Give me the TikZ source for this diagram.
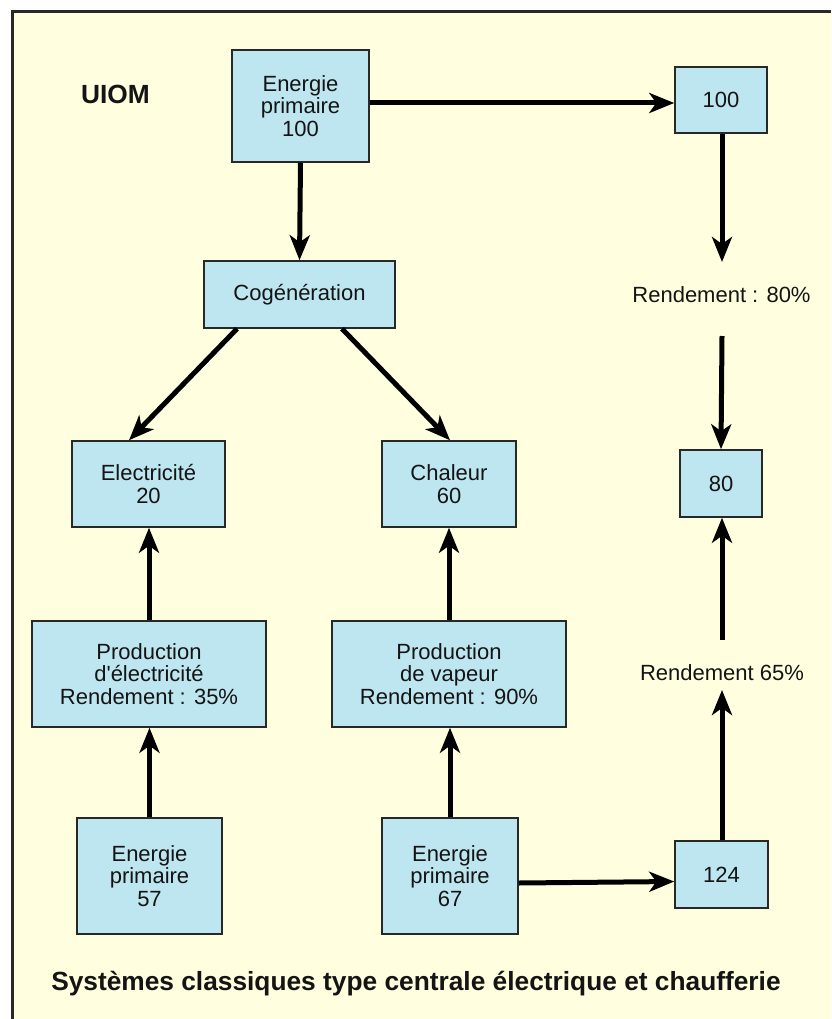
\documentclass[tikz,border=0pt]{standalone}
\usepackage{fontspec}
\setmainfont{Liberation Sans}
\usetikzlibrary{arrows.meta}
\definecolor{paper}{RGB}{255,255,224}
\definecolor{boxblue}{RGB}{190,230,240}
\definecolor{edge}{RGB}{40,40,40}
\definecolor{ink}{RGB}{20,20,20}
\tikzset{
  flowbox/.style={draw=edge, line width=1.5pt, fill=boxblue, inner sep=0pt, text=ink,
    align=center, font=\fontsize{22}{22.5}\selectfont},
  flowlabel/.style={inner sep=0pt, align=center, text=ink, font=\fontsize{22}{22.5}\selectfont},
  heading/.style={inner sep=0pt, text=ink, font=\bfseries\fontsize{26.3}{30}\selectfont},
  arr/.style={line width=5pt, -{Stealth[length=25pt, width=20pt, inset=7pt]}}
}
\begin{document}
\begin{tikzpicture}[x=1pt, y=-1pt]
\useasboundingbox (0,0) rectangle (831,1019);
% panel
\fill[paper] (11,10) rectangle (831,1019);
\draw[line width=3pt, edge] (12.5,1019) -- (12.5,11.5) -- (831,11.5);

% boxes
\node[flowbox, minimum width=137pt, minimum height=112pt] (e100) at (300.5,106) {Energie\\primaire\\100};
\node[flowbox, minimum width=92pt, minimum height=66pt] (b100) at (721,100) {100};
\node[flowbox, minimum width=191pt, minimum height=67pt] (cog) at (299.5,294.5) {Cogénération};
\node[flowbox, minimum width=153pt, minimum height=86pt] (elec) at (148.5,484) {Electricité\\20};
\node[flowbox, minimum width=134pt, minimum height=86pt] (chal) at (449,484) {Chaleur\\60};
\node[flowbox, minimum width=82pt, minimum height=67pt] (b80) at (721,483.5) {80};
\node[flowbox, minimum width=234pt, minimum height=106pt] (prodE) at (149,674) {Production\\d\textquotesingle électricité\\Rendement : 35\%};
\node[flowbox, minimum width=234pt, minimum height=106pt] (prodV) at (449,674) {Production\\de vapeur\\Rendement : 90\%};
\node[flowbox, minimum width=145pt, minimum height=116pt] (e57) at (149.5,876) {Energie\\primaire\\57};
\node[flowbox, minimum width=136pt, minimum height=116pt] (e67) at (450,876) {Energie\\primaire\\67};
\node[flowbox, minimum width=93pt, minimum height=67pt] (b124) at (721.5,874.5) {124};

% free labels
\node[heading] (uiom) at (115.5,94) {UIOM};
\node[flowlabel] (r80) at (721.5,295) {Rendement : 80\%};
\node[flowlabel] (r65) at (722,673) {Rendement 65\%};
\node[heading] (title) at (416,984) {Systèmes classiques type centrale électrique et chaufferie};

% connector ends around the yield labels
\coordinate (r80top) at (722,262);
\coordinate (r80bot) at (722,336);
\coordinate (r65top) at (722,640);
\coordinate (r65bot) at (722,690);

% connectors
\draw[arr] ([yshift=3pt]e100.east) -- ([yshift=-3pt]b100.west);
\draw[arr] (e100.south) -- (cog.north);
\draw[arr] ([xshift=1pt]b100.south) -- (r80top);
\draw[arr] (r80bot) -- (b80.north);
\draw[arr] ([xshift=-62.5pt]cog.south) -- ([xshift=-19.5pt]elec.north);
\draw[arr] ([xshift=42.5pt]cog.south) -- ([xshift=1pt]chal.north);
\draw[arr] (prodE.north) -- (elec.south -| prodE.north);
\draw[arr] (e57.north) -- (prodE.south -| e57.north);
\draw[arr] (prodV.north) -- (chal.south -| prodV.north);
\draw[arr] (e67.north) -- (prodV.south -| e67.north);
\draw[arr] (r65top) -- (b80.south -| r65top);
\draw[arr] (b124.north -| r65bot) -- (r65bot);
\draw[arr] ([yshift=-7pt]e67.east) -- ([yshift=-7pt]b124.west);
\end{tikzpicture}
\end{document}
